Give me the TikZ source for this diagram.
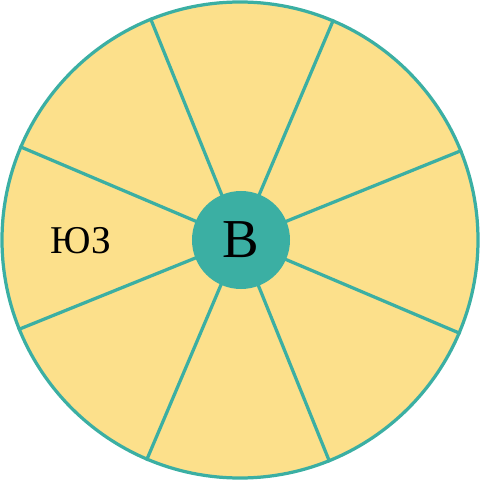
\documentclass[tikz,border=0pt]{standalone}
\usepackage{fontspec}
\setmainfont{Liberation Serif}
\usetikzlibrary{positioning}

\definecolor{wheelteal}{HTML}{3BAFA3}
\definecolor{wheelyellow}{HTML}{FCE08B}

\begin{document}
\begin{tikzpicture}[
x=0.025cm,y=0.025cm,
rim/.style={
draw=wheelteal,
line width=2.3pt,
fill=wheelyellow
},
spoke/.style={
draw=wheelteal,
line width=2.3pt
},
hub/.style={
circle,
fill=wheelteal,
minimum size=98*0.025cm,
inner sep=0pt,
font=\fontsize{39}{39}\selectfont
},
sector/.style={
font=\fontsize{28}{28}\selectfont
}
]

\useasboundingbox (-240,-240) rectangle (240,240);

% wheel
\node[circle,rim,minimum size=476*0.025cm,inner sep=0pt] (wheel) at (0,0) {};

% spokes
\foreach \a in {22.5,67.5,...,337.5}{
\draw[spoke] (wheel.center) -- (wheel.\a);
}

% hub
\node[hub] (east) at (1,0) {В};

% labels
\node[sector] (sw) at (-159,-1) {ЮЗ};

\end{tikzpicture}
\end{document}
